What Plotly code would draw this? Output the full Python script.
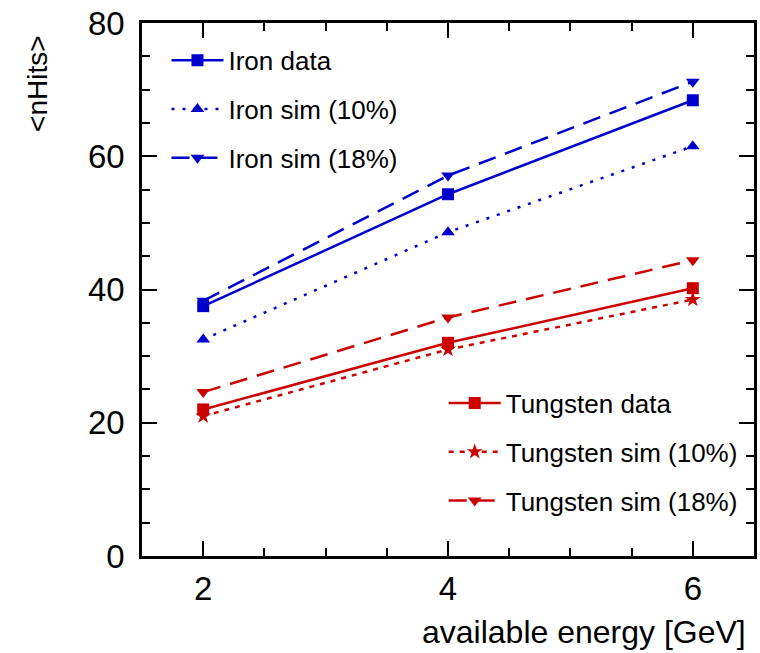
import plotly.graph_objects as go

# Available energy points [GeV]
energy = [2, 4, 6]

# Mean number of hits per event
iron_data = [37.5, 54.3, 68.4]
iron_sim10 = [32.5, 48.6, 61.5]
iron_sim18 = [38.3, 57.1, 71.2]
tungsten_data = [22.0, 32.0, 40.2]
tungsten_sim10 = [21.0, 31.0, 38.5]
tungsten_sim18 = [24.6, 35.8, 44.4]

BLUE = "#0000cc"
RED = "#cc0000"
FONT = "Liberation Sans, Arial, sans-serif"

series = [
    ("Iron data", iron_data, BLUE, "solid", "square", "legend"),
    ("Iron sim (10%)", iron_sim10, BLUE, "3px,8px", "triangle-up", "legend"),
    ("Iron sim (18%)", iron_sim18, BLUE, "18px,10px", "triangle-down", "legend"),
    ("Tungsten data", tungsten_data, RED, "solid", "square", "legend2"),
    ("Tungsten sim (10%)", tungsten_sim10, RED, "5px,6px", "star", "legend2"),
    ("Tungsten sim (18%)", tungsten_sim18, RED, "18px,10px", "triangle-down", "legend2"),
]

fig = go.Figure()
for name, vals, color, dash, symbol, leg in series:
    fig.add_trace(go.Scatter(
        x=energy, y=vals, name=name, mode="lines+markers",
        line=dict(color=color, width=2.5, dash=dash),
        marker=dict(symbol=symbol, size=12, color=color),
        legend=leg, legendgroup=name,
    ))

axis_common = dict(
    showline=True, linecolor="black", linewidth=2.5, mirror="ticks",
    ticks="inside", ticklen=15, tickwidth=2, tickcolor="black",
    showgrid=False, zeroline=False,
    tickfont=dict(family=FONT, size=33, color="black"),
)

fig.update_xaxes(
    range=[1.5, 6.5], tick0=0, dtick=2,
    minor=dict(dtick=0.5, ticks="inside", ticklen=8, tickwidth=2, tickcolor="black"),
    ticklabelstandoff=2,
    **axis_common,
)
fig.update_yaxes(
    range=[0, 80], tick0=0, dtick=20,
    minor=dict(dtick=5, ticks="inside", ticklen=8, tickwidth=2, tickcolor="black"),
    ticklabelstandoff=8,
    **axis_common,
)

legend_style = dict(
    font=dict(family=FONT, size=26, color="black"),
    bgcolor="rgba(0,0,0,0)", borderwidth=0,
    tracegroupgap=12, itemwidth=52,
    xanchor="left", yanchor="top",
)

fig.update_layout(
    width=760, height=653,
    margin=dict(l=142, r=3, t=23, b=97),
    paper_bgcolor="white", plot_bgcolor="white",
    font=dict(family=FONT, color="black"),
    legend=dict(x=0.04, y=0.974, **legend_style),
    legend2=dict(x=0.493, y=0.331, **legend_style),
    annotations=[
        dict(text="available energy [GeV]", xref="paper", yref="paper",
             x=0.99, y=-0.143, xanchor="right", yanchor="middle",
             showarrow=False, font=dict(family=FONT, size=32, color="black")),
        dict(text="&lt;nHits&gt;", xref="paper", yref="paper",
             x=-0.172, y=0.887, xanchor="center", yanchor="middle", textangle=-90,
             showarrow=False, font=dict(family=FONT, size=28, color="black")),
    ],
)

fig.write_html("out.html")
